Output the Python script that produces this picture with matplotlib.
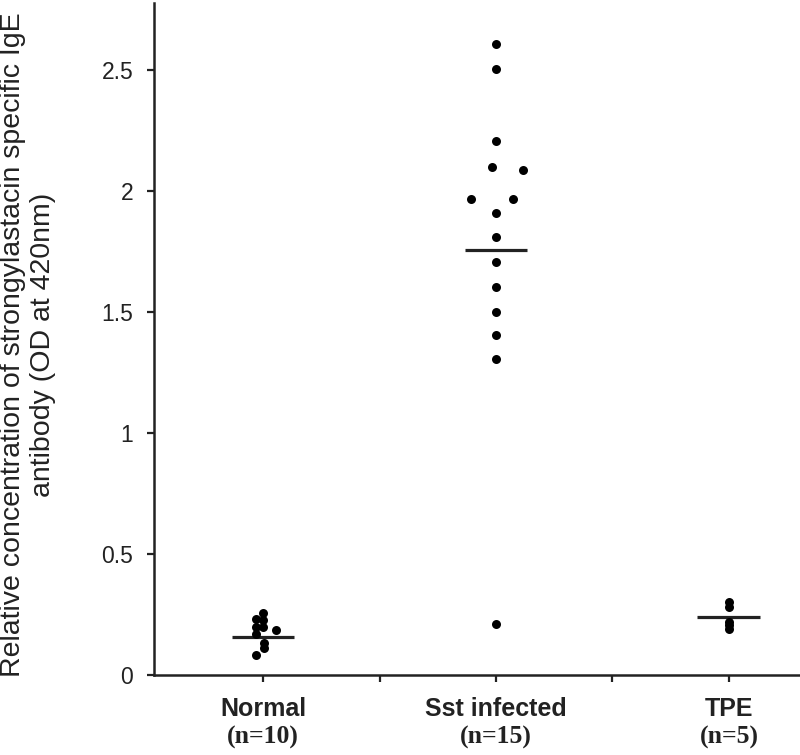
import matplotlib
matplotlib.use("Agg")
import matplotlib.pyplot as plt
import numpy as np

# ---- data ----
categories = ["Normal", "Sst infected", "TPE"]
group_n = ["(n=10)", "(n=15)", "(n=5)"]

normal_values = [0.255, 0.23, 0.227, 0.20, 0.20, 0.186, 0.17, 0.133, 0.11, 0.083]
normal_jitter = [0.0, -0.03, 0.0, -0.03, 0.0, 0.055, -0.03, 0.005, 0.005, -0.03]

sst_values = [2.607, 2.503, 2.207, 2.10, 2.087, 1.967, 1.967, 1.908, 1.809,
              1.705, 1.605, 1.501, 1.405, 1.306, 0.21]
sst_jitter = [0.0, 0.0, 0.0, -0.018, 0.118, -0.108, 0.073, 0.0, 0.0,
              0.0, 0.0, 0.0, 0.0, 0.0, 0.0]

tpe_values = [0.30, 0.28, 0.22, 0.205, 0.19]
tpe_jitter = [0.0, 0.0, 0.0, 0.0, 0.0]

group_means = [0.158, 1.756, 0.241]

y_ticks = [0, 0.5, 1, 1.5, 2, 2.5]
y_ticklabels = ["0", "0.5", "1", "1.5", "2", "2.5"]

ylabel_text = ("Relative concentration of strongylastacin specific IgE\n"
               "antibody (OD at 420nm)")

# ---- figure ----
fig = plt.figure(figsize=(8.0, 7.55), dpi=100)
ax = fig.add_axes([0.1925, 0.106, 0.8075, 0.89])

groups = [(normal_values, normal_jitter), (sst_values, sst_jitter), (tpe_values, tpe_jitter)]
for i, (vals, jit) in enumerate(groups):
    xpos = [i + 1 + j for j in jit]
    ax.scatter(xpos, vals, s=42, color="black", zorder=3, linewidths=0)
    ax.hlines(group_means[i], i + 1 - 0.135, i + 1 + 0.135, color="#222222",
              linewidth=2.3, zorder=2)

ax.set_xlim(0.532, 3.305)
ax.set_ylim(0, 2.777)

for s in ["top", "right"]:
    ax.spines[s].set_visible(False)
for s in ["left", "bottom"]:
    ax.spines[s].set_linewidth(1.8)
    ax.spines[s].set_color("#222222")

ax.set_yticks(y_ticks)
ax.set_yticklabels(y_ticklabels, fontsize=16.5, family="Liberation Sans", color="#222222")
ax.tick_params(axis="y", direction="out", length=5, width=1.6, pad=10, colors="#222222")

ax.set_xticks([1, 2, 3])
ax.set_xticklabels([])
ax.set_xticks([1.5, 2.5], minor=True)
ax.tick_params(axis="x", which="both", direction="out", length=5, width=1.6, colors="#222222")

for i, (name, n) in enumerate(zip(categories, group_n)):
    ax.annotate(name, xy=(i + 1, 0), xycoords=("data", "axes fraction"),
                xytext=(0, -16), textcoords="offset points", ha="center", va="top",
                fontsize=18, fontweight="bold", family="Liberation Sans", color="#222222")
    ax.annotate(n, xy=(i + 1, 0), xycoords=("data", "axes fraction"),
                xytext=(0, -37), textcoords="offset points", ha="center", va="top",
                fontsize=18.5, fontweight="bold", family="Liberation Serif", color="#222222")

fig.text(0.035, 0.106 + 0.89 * 0.5 - 0.008, ylabel_text, rotation=90, ha="center", va="center",
         fontsize=20.5, family="Liberation Sans", color="#222222", linespacing=1.15)

fig.savefig("out.png", dpi=100)
